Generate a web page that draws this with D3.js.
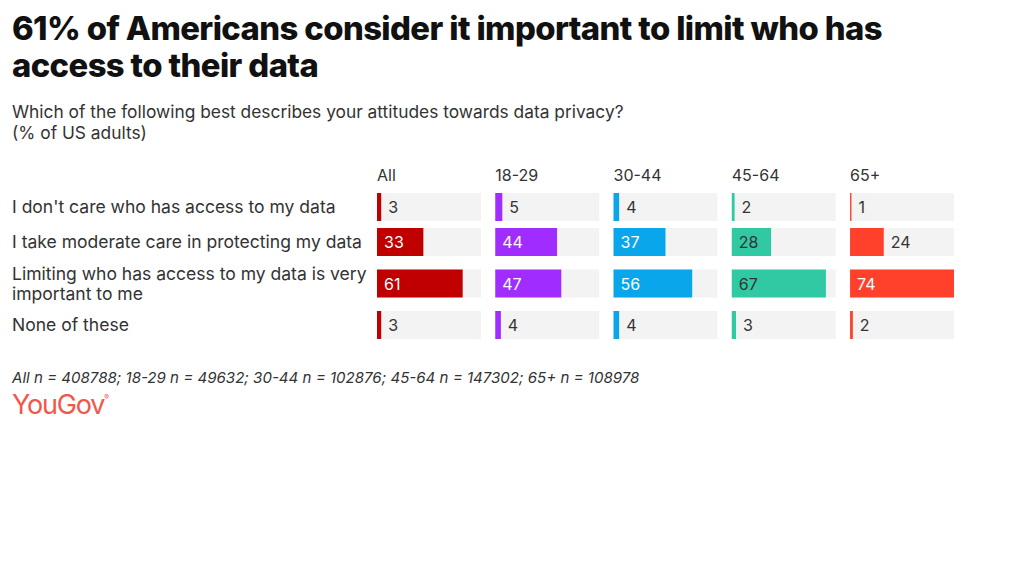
<!DOCTYPE html>
<html lang="en">
<head>
<meta charset="UTF-8">
<title>Data privacy attitudes</title>
<script src="https://d3js.org/d3.v7.min.js"></script>
<style>
  body { margin: 0; background: #fff; }
  svg { display: block; }
  text { font-family: Inter, "Noto Sans", sans-serif; }
</style>
</head>
<body>
<svg id="chart"></svg>
<script>
// Daten
var groups = ["All", "18-29", "30-44", "45-64", "65+"];
var answers = [
  "I don't care who has access to my data",
  "I take moderate care in protecting my data",
  "Limiting who has access to my data is very important to me",
  "None of these"
];
var valAll   = [3, 33, 61, 3];
var val1829  = [5, 44, 47, 4];
var val3044  = [4, 37, 56, 4];
var val4564  = [2, 28, 67, 3];
var val65    = [1, 24, 74, 2];
var seriesValues = [valAll, val1829, val3044, val4564, val65];
var groupColors = ["#c00000", "#a12cff", "#0aa6ec", "#31c9a4", "#ff412c"];
var insideTextColors = ["#fff", "#fff", "#fff", "#333", "#fff"];

var width = 1024, height = 576;
var svg = d3.select("#chart").attr("width", width).attr("height", height);

// Schriftgröße so wählen, dass die Zeile die Zielbreite hat
function fitSize(str, base, targetW, attrs) {
  var tmp = svg.append("text").attr("font-size", base);
  Object.keys(attrs || {}).forEach(function(k) { tmp.attr(k, attrs[k]); });
  tmp.text(str);
  var w = tmp.node().getComputedTextLength();
  tmp.remove();
  return base * targetW / w;
}

// Titel
var t1 = "61% of Americans consider it important to limit who has";
var titleSize = fitSize(t1, 29, 866, { "font-weight": 800, "letter-spacing": -0.6 });
var title = svg.append("text")
  .attr("x", 12).attr("y", 40)
  .attr("font-size", titleSize).attr("font-weight", 800).attr("fill", "#111")
  .attr("letter-spacing", -0.6);
title.append("tspan").attr("x", 12).text(t1);
title.append("tspan").attr("x", 12).attr("dy", 37).text("access to their data");

var s1 = "Which of the following best describes your attitudes towards data privacy?";
var subSize = fitSize(s1, 16, 612);
var sub = svg.append("text")
  .attr("x", 12).attr("y", 118)
  .attr("font-size", subSize).attr("fill", "#333");
sub.append("tspan").attr("x", 12).text(s1);
sub.append("tspan").attr("x", 12).attr("dy", 21).text("(% of US adults)");

// Layout der Panels
var panelX = d3.scaleBand().domain(groups).range([377, 954]).paddingInner(0.121).paddingOuter(0);
var maxVal = d3.max(seriesValues, function(s) { return d3.max(s); });
var x = d3.scaleLinear().domain([0, maxVal]).range([0, panelX.bandwidth()]);

var labelSize = fitSize(answers[1], 16, 350);

// Zeilenpositionen: zweizeilige Beschriftungen bekommen mehr Platz
function wrapLines(str, maxW) {
  var tmp = svg.append("text").attr("font-size", labelSize);
  var words = str.split(" "), lines = [], cur = "";
  words.forEach(function(w) {
    var test = cur ? cur + " " + w : w;
    tmp.text(test);
    if (tmp.node().getComputedTextLength() > maxW && cur) { lines.push(cur); cur = w; }
    else cur = test;
  });
  lines.push(cur);
  tmp.remove();
  return lines;
}
var barH = 28, gap = 7;
var rows = [];
var yPos = 193;
answers.forEach(function(a) {
  var lines = wrapLines(a, 358);
  var h = lines.length > 1 ? 41 : barH;
  rows.push({ label: a, lines: lines, top: yPos, h: h, barY: yPos + (h - barH) / 2 });
  yPos += h + gap;
});

// Zeilenbeschriftungen
rows.forEach(function(r) {
  var t = svg.append("text").attr("font-size", labelSize).attr("fill", "#333");
  var mid = r.top + r.h / 2;
  var first = mid + 6 - (r.lines.length - 1) * 10;
  r.lines.forEach(function(l, i) {
    t.append("tspan").attr("x", 12).attr("y", first + i * 20).text(l);
  });
});

// Panels
groups.forEach(function(g, gi) {
  var px = panelX(g);
  var panel = svg.append("g").attr("transform", "translate(" + px + ",0)");
  panel.append("text").attr("x", 0).attr("y", 181)
    .attr("font-size", 16).attr("fill", "#333").text(g);

  var cells = panel.selectAll(".cell").data(seriesValues[gi]).enter()
    .append("g").attr("class", "cell");
  cells.append("rect")
    .attr("x", 0).attr("y", function(d, i) { return rows[i].barY; })
    .attr("width", panelX.bandwidth()).attr("height", barH)
    .attr("fill", "#f3f3f3");
  cells.append("rect")
    .attr("x", 0).attr("y", function(d, i) { return rows[i].barY; })
    .attr("width", function(d) { return x(d); }).attr("height", barH)
    .attr("fill", groupColors[gi]);
  cells.append("text")
    .attr("y", function(d, i) { return rows[i].barY + barH / 2 + 6; })
    .attr("font-size", 16)
    .text(function(d) { return d; })
    .each(function(d) {
      var tw = this.getComputedTextLength();
      var inside = x(d) > tw + 16;
      d3.select(this)
        .attr("x", inside ? 7 : x(d) + 7)
        .attr("fill", inside ? insideTextColors[gi] : "#333");
    });
});

// Fußnote und Logo
var note = "All n = 408788; 18-29 n = 49632; 30-44 n = 102876; 45-64 n = 147302; 65+ n = 108978";
svg.append("text").attr("x", 12).attr("y", 383)
  .attr("font-size", fitSize(note, 14, 628, { "font-style": "italic" }))
  .attr("font-style", "italic").attr("fill", "#333")
  .text(note);
var logo = svg.append("text").attr("x", 12).attr("y", 414)
  .attr("font-size", 27).attr("fill", "#f2564a").attr("letter-spacing", -1.2)
  .text("YouGov");
logo.append("tspan").attr("font-size", 7).attr("dy", -14).text("®");
</script>
</body>
</html>
